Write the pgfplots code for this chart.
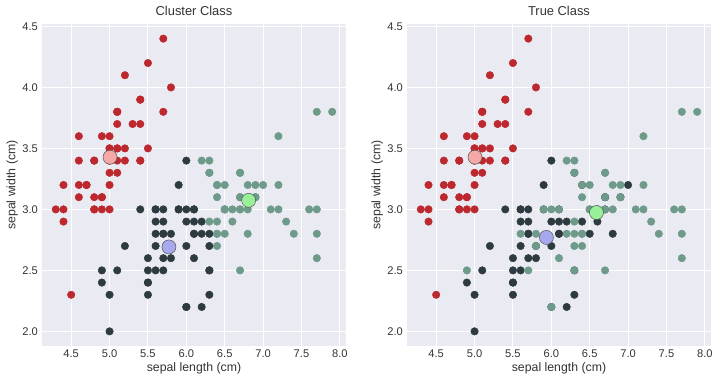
\documentclass[border=0pt]{standalone}
\usepackage{pgfplots}
\pgfplotsset{compat=1.18}
\usepackage{fontspec}
\setmainfont{Liberation Sans}
\definecolor{bgc}{HTML}{EAEAF2}
\definecolor{cred}{HTML}{BC282D}
\definecolor{cdark}{HTML}{2D3B40}
\definecolor{cgreen}{HTML}{6E9A8A}
\definecolor{kpink}{HTML}{F4A8A8}
\definecolor{kblue}{HTML}{A8A8EE}
\definecolor{kgreen}{HTML}{98F098}
\definecolor{txt}{HTML}{333333}
\pgfplotsset{
  irisax/.style={
    scale only axis, width=9.12cm, height=9.66cm,
    anchor=south west,
    xmin=4.12, xmax=8.08, ymin=1.88, ymax=4.52,
    axis background/.style={fill=bgc},
    axis line style={draw=none},
    grid=major, major grid style={white, line width=0.9pt},
    tick style={draw=none},
    xtick={4.5,5.0,...,8.0}, ytick={2.0,2.5,...,4.5},
    /pgf/number format/assume math mode=true,
    xticklabel style={/pgf/number format/.cd, fixed, fixed zerofill, precision=1},
    yticklabel style={/pgf/number format/.cd, fixed, fixed zerofill, precision=1},
    ticklabel style={font=\fontsize{9.5}{10}\selectfont, text=txt},
    label style={font=\fontsize{10.5}{12}\selectfont, text=txt},
    title style={font=\fontsize{11}{12}\selectfont, text=txt, yshift=-2pt},
    xlabel={sepal length (cm)}, ylabel={sepal width (cm)},
    xlabel style={yshift=3pt}, ylabel style={yshift=-3pt},
    clip=false,
  },
  pts/.style={color=#1, only marks, mark=*, mark size=3.2pt, mark options={draw=none, fill=#1}},
  ctr/.style={color=black!70, only marks, mark=*, mark size=6pt, mark options={draw=black!70, line width=0.4pt, fill=#1}},
}
\pgfplotstableread{
x y
5.1 3.5
4.9 3.0
4.7 3.2
4.6 3.1
5.0 3.6
5.4 3.9
4.6 3.4
5.0 3.4
4.4 2.9
4.9 3.1
5.4 3.7
4.8 3.4
4.8 3.0
4.3 3.0
5.8 4.0
5.7 4.4
5.4 3.9
5.1 3.5
5.7 3.8
5.1 3.8
5.4 3.4
5.1 3.7
4.6 3.6
5.1 3.3
4.8 3.4
5.0 3.0
5.0 3.4
5.2 3.5
5.2 3.4
4.7 3.2
4.8 3.1
5.4 3.4
5.2 4.1
5.5 4.2
4.9 3.1
5.0 3.2
5.5 3.5
4.9 3.6
4.4 3.0
5.1 3.4
5.0 3.5
4.5 2.3
4.4 3.2
5.0 3.5
5.1 3.8
4.8 3.0
5.1 3.8
4.6 3.2
5.3 3.7
5.0 3.3
}\setosa
\pgfplotstableread{
x y
7.0 3.2
6.4 3.2
6.9 3.1
5.5 2.3
6.5 2.8
5.7 2.8
6.3 3.3
4.9 2.4
6.6 2.9
5.2 2.7
5.0 2.0
5.9 3.0
6.0 2.2
6.1 2.9
5.6 2.9
6.7 3.1
5.6 3.0
5.8 2.7
6.2 2.2
5.6 2.5
5.9 3.2
6.1 2.8
6.3 2.5
6.1 2.8
6.4 2.9
6.6 3.0
6.8 2.8
6.7 3.0
6.0 2.9
5.7 2.6
5.5 2.4
5.5 2.4
5.8 2.7
6.0 2.7
5.4 3.0
6.0 3.4
6.7 3.1
6.3 2.3
5.6 3.0
5.5 2.5
5.5 2.6
6.1 3.0
5.8 2.6
5.0 2.3
5.6 2.7
5.7 3.0
5.7 2.9
6.2 2.9
5.1 2.5
5.7 2.8
}\versicolor
\pgfplotstableread{
x y
6.3 3.3
5.8 2.7
7.1 3.0
6.3 2.9
6.5 3.0
7.6 3.0
4.9 2.5
7.3 2.9
6.7 2.5
7.2 3.6
6.5 3.2
6.4 2.7
6.8 3.0
5.7 2.5
5.8 2.8
6.4 3.2
6.5 3.0
7.7 3.8
7.7 2.6
6.0 2.2
6.9 3.2
5.6 2.8
7.7 2.8
6.3 2.7
6.7 3.3
7.2 3.2
6.2 2.8
6.1 3.0
6.4 2.8
7.2 3.0
7.4 2.8
7.9 3.8
6.4 2.8
6.3 2.8
6.1 2.6
7.7 3.0
6.3 3.4
6.4 3.1
6.0 3.0
6.9 3.1
6.7 3.1
6.9 3.1
5.8 2.7
6.8 3.2
6.7 3.3
6.7 3.0
6.3 2.5
6.5 3.0
6.2 3.4
5.9 3.0
}\virginica
\pgfplotstableread{
x y
5.5 2.3
5.7 2.8
4.9 2.4
5.2 2.7
5.0 2.0
5.9 3.0
6.0 2.2
6.1 2.9
5.6 2.9
5.6 3.0
5.8 2.7
6.2 2.2
5.6 2.5
5.9 3.2
6.1 2.8
6.3 2.5
6.1 2.8
6.0 2.9
5.7 2.6
5.5 2.4
5.5 2.4
5.8 2.7
6.0 2.7
5.4 3.0
6.0 3.4
6.3 2.3
5.6 3.0
5.5 2.5
5.5 2.6
6.1 3.0
5.8 2.6
5.0 2.3
5.6 2.7
5.7 3.0
5.7 2.9
6.2 2.9
5.1 2.5
5.7 2.8
5.8 2.7
4.9 2.5
5.7 2.5
5.8 2.8
6.0 2.2
5.6 2.8
6.3 2.7
6.2 2.8
6.1 3.0
6.3 2.8
6.1 2.6
6.0 3.0
5.8 2.7
6.3 2.5
5.9 3.0
}\clusterdark
\pgfplotstableread{
x y
7.0 3.2
6.4 3.2
6.9 3.1
6.5 2.8
6.3 3.3
6.6 2.9
6.7 3.1
6.4 2.9
6.6 3.0
6.8 2.8
6.7 3.0
6.7 3.1
6.3 3.3
7.1 3.0
6.3 2.9
6.5 3.0
7.6 3.0
7.3 2.9
6.7 2.5
7.2 3.6
6.5 3.2
6.4 2.7
6.8 3.0
6.4 3.2
6.5 3.0
7.7 3.8
7.7 2.6
6.9 3.2
7.7 2.8
6.7 3.3
7.2 3.2
6.4 2.8
7.2 3.0
7.4 2.8
7.9 3.8
6.4 2.8
7.7 3.0
6.3 3.4
6.4 3.1
6.9 3.1
6.7 3.1
6.9 3.1
6.8 3.2
6.7 3.3
6.7 3.0
6.5 3.0
6.2 3.4
}\clustergreen
\begin{document}
\begin{tikzpicture}
\path[use as bounding box] (0,0) rectangle (21.54cm,11.52cm);
\begin{axis}[irisax, at={(1.26cm,1.14cm)}, title={Cluster Class}]
\addplot[pts=cred] table {\setosa};
\addplot[pts=cdark] table {\clusterdark};
\addplot[pts=cgreen] table {\clustergreen};
\addplot[ctr=kpink] coordinates {(5.006,3.428)};
\addplot[ctr=kblue] coordinates {(5.773,2.692)};
\addplot[ctr=kgreen] coordinates {(6.812,3.074)};
\end{axis}
\begin{axis}[irisax, at={(12.21cm,1.14cm)}, title={True Class}]
\addplot[pts=cred] table {\setosa};
\addplot[pts=cdark] table {\versicolor};
\addplot[pts=cgreen] table {\virginica};
\addplot[ctr=kpink] coordinates {(5.006,3.428)};
\addplot[ctr=kblue] coordinates {(5.936,2.770)};
\addplot[ctr=kgreen] coordinates {(6.588,2.974)};
\end{axis}
\end{tikzpicture}
\end{document}
